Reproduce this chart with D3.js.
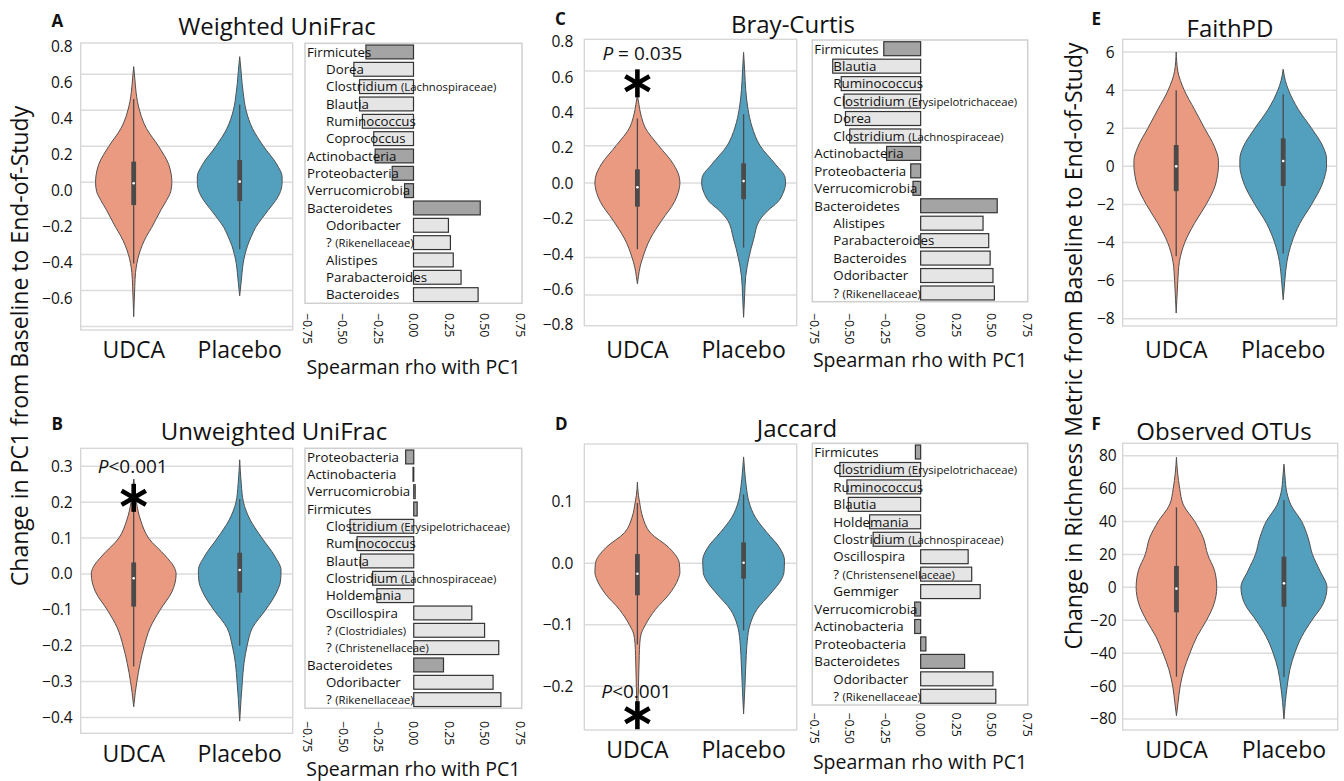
<!DOCTYPE html>
<html><head><meta charset="utf-8">
<script src="https://cdn.jsdelivr.net/npm/d3@7"></script>
<style>body{margin:0;background:#fff} svg{display:block} text{font-family:'Open Sans',sans-serif;fill:#111}</style>
</head><body><svg id="c" width="1344" height="781"></svg>
<script>
// ---------------- DATA ----------------
const categories = ["UDCA", "Placebo"];

// violin outlines: [value, half-width as fraction of half band]
const wUniUDCA = [[0.643,0],[0.58,0.02],[0.5,0.045],[0.45,0.07],[0.4,0.11],[0.33,0.19],[0.3,0.24],[0.2,0.47],[0.1,0.66],[0.04,0.71],[0,0.72],[-0.05,0.7],[-0.1,0.62],[-0.15,0.52],[-0.2,0.43],[-0.25,0.34],[-0.3,0.24],[-0.35,0.16],[-0.4,0.1],[-0.45,0.06],[-0.5,0.035],[-0.58,0.02],[-0.66,0.01],[-0.746,0]];
const wUniPlacebo = [[0.698,0],[0.62,0.025],[0.55,0.045],[0.5,0.065],[0.4,0.12],[0.3,0.24],[0.2,0.45],[0.1,0.7],[0.03,0.8],[0,0.8],[-0.05,0.77],[-0.1,0.68],[-0.15,0.55],[-0.2,0.42],[-0.25,0.3],[-0.3,0.22],[-0.35,0.15],[-0.4,0.1],[-0.45,0.065],[-0.5,0.045],[-0.56,0.025],[-0.63,0]];
const uUniUDCA = [[0.264,0],[0.22,0.03],[0.2,0.05],[0.15,0.13],[0.1,0.28],[0.05,0.6],[0.02,0.76],[0,0.8],[-0.025,0.78],[-0.05,0.72],[-0.1,0.5],[-0.15,0.31],[-0.2,0.2],[-0.25,0.12],[-0.3,0.06],[-0.33,0.03],[-0.37,0]];
const uUniPlacebo = [[0.318,0],[0.25,0.03],[0.2,0.07],[0.15,0.2],[0.1,0.42],[0.05,0.66],[0.01,0.78],[-0.02,0.77],[-0.05,0.7],[-0.1,0.49],[-0.15,0.24],[-0.2,0.14],[-0.25,0.08],[-0.3,0.05],[-0.35,0.025],[-0.41,0]];
const brayUDCA = [[0.47,0],[0.42,0.03],[0.4,0.04],[0.35,0.08],[0.3,0.14],[0.2,0.4],[0.1,0.68],[0.03,0.79],[0,0.8],[-0.05,0.77],[-0.1,0.7],[-0.2,0.46],[-0.3,0.24],[-0.4,0.1],[-0.45,0.05],[-0.5,0.02],[-0.54,0]];
const brayPlacebo = [[0.7,0],[0.6,0.02],[0.5,0.04],[0.4,0.08],[0.3,0.16],[0.2,0.31],[0.1,0.6],[0.03,0.78],[0,0.79],[-0.05,0.75],[-0.1,0.65],[-0.15,0.45],[-0.2,0.3],[-0.3,0.19],[-0.4,0.1],[-0.5,0.04],[-0.6,0.02],[-0.72,0]];
const jacUDCA = [[0.132,0],[0.11,0.02],[0.1,0.04],[0.075,0.1],[0.05,0.24],[0.025,0.6],[0,0.79],[-0.015,0.8],[-0.025,0.77],[-0.05,0.6],[-0.075,0.34],[-0.1,0.15],[-0.115,0.07],[-0.13,0.045],[-0.15,0.035],[-0.2,0.02],[-0.26,0]];
const jacPlacebo = [[0.173,0],[0.15,0.02],[0.125,0.05],[0.1,0.1],[0.075,0.22],[0.05,0.44],[0.025,0.68],[0.005,0.77],[-0.015,0.76],[-0.025,0.72],[-0.05,0.5],[-0.075,0.25],[-0.1,0.12],[-0.125,0.07],[-0.15,0.05],[-0.2,0.025],[-0.245,0]];
const faithUDCA = [[6,0],[5,0.03],[4,0.15],[3,0.34],[2,0.53],[1,0.72],[0.3,0.79],[0,0.79],[-0.5,0.77],[-1,0.73],[-2,0.56],[-3,0.34],[-4,0.16],[-5,0.06],[-6,0.03],[-7,0.012],[-7.7,0]];
const faithPlacebo = [[5.1,0],[4.5,0.04],[4,0.1],[3,0.28],[2,0.53],[1,0.75],[0.4,0.81],[0,0.81],[-0.5,0.78],[-1,0.72],[-2,0.53],[-3,0.31],[-4,0.16],[-5,0.07],[-6,0.03],[-7,0]];
const otuUDCA = [[79,0],[70,0.02],[60,0.06],[50,0.13],[40,0.34],[30,0.5],[20,0.58],[10,0.71],[0,0.75],[-10,0.7],[-20,0.56],[-30,0.38],[-40,0.25],[-50,0.14],[-60,0.07],[-70,0.03],[-78,0]];
const otuPlacebo = [[74.8,0],[65,0.025],[60,0.04],[50,0.13],[40,0.33],[30,0.45],[20,0.53],[10,0.67],[0,0.8],[-10,0.73],[-20,0.52],[-30,0.33],[-40,0.2],[-50,0.11],[-60,0.06],[-70,0.025],[-80,0]];

// box stats: [low whisker, q1, median, q3, high whisker]
const wUniBox = [[-0.45,-0.126,-0.005,0.115,0.463],[-0.372,-0.104,0.004,0.124,0.433]];
const uUniBox = [[-0.258,-0.091,-0.012,0.032,0.264],[-0.2,-0.052,0.011,0.059,0.209]];
const brayBox = [[-0.355,-0.127,-0.023,0.073,0.346],[-0.346,-0.087,0.01,0.105,0.368]];
const jacBox = [[-0.132,-0.052,-0.017,0.015,0.098],[-0.109,-0.025,0.001,0.034,0.112]];
const faithBox = [[-4.72,-1.3,0,1.12,4.0],[-4.58,-1.03,0.28,1.47,3.79]];
const otuBox = [[-54.3,-15.2,-0.8,13,48.6],[-54.7,-11.8,2.4,18.6,53]];

// y ticks
const wUniTicks = [-0.8,-0.6,-0.4,-0.2,0,0.2,0.4,0.6,0.8];
const wUniLabels = [-0.6,-0.4,-0.2,0,0.2,0.4,0.6,0.8];
const uUniTicks = [-0.4,-0.3,-0.2,-0.1,0,0.1,0.2,0.3];
const brayTicks = [-0.8,-0.6,-0.4,-0.2,0,0.2,0.4,0.6,0.8];
const jacTicks = [-0.2,-0.1,0,0.1];
const faithTicks = [-8,-6,-4,-2,0,2,4,6];
const otuTicks = [-80,-60,-40,-20,0,20,40,60,80];

// bar charts (level 0 = phylum, 1 = genus)
const rhoTicks = [-0.75,-0.5,-0.25,0,0.25,0.5,0.75];
const wUniTaxa = ["Firmicutes","Dorea","Clostridium (Lachnospiraceae)","Blautia","Ruminococcus","Coprococcus","Actinobacteria","Proteobacteria","Verrucomicrobia","Bacteroidetes","Odoribacter","? (Rikenellaceae)","Alistipes","Parabacteroides","Bacteroides"];
const wUniLevel = [0,1,1,1,1,1,0,0,0,0,1,1,1,1,1];
const wUniRho = [-0.335,-0.42,-0.38,-0.38,-0.36,-0.28,-0.27,-0.15,-0.063,0.47,0.246,0.26,0.28,0.335,0.455];
const uUniTaxa = ["Proteobacteria","Actinobacteria","Verrucomicrobia","Firmicutes","Clostridium (Erysipelotrichaceae)","Ruminococcus","Blautia","Clostridium (Lachnospiraceae)","Holdemania","Oscillospira","? (Clostridiales)","? (Christenellaceae)","Bacteroidetes","Odoribacter","? (Rikenellaceae)"];
const uUniLevel = [0,0,0,0,1,1,1,1,1,1,1,1,0,1,1];
const uUniRho = [-0.057,-0.005,0.01,0.024,-0.45,-0.40,-0.375,-0.29,-0.26,0.41,0.50,0.60,0.21,0.56,0.615];
const brayTaxa = ["Firmicutes","Blautia","Ruminococcus","Clostridium (Erysipelotrichaceae)","Dorea","Clostridium (Lachnospiraceae)","Actinobacteria","Proteobacteria","Verrucomicrobia","Bacteroidetes","Alistipes","Parabacteroides","Bacteroides","Odoribacter","? (Rikenellaceae)"];
const brayLevel = [0,1,1,1,1,1,0,0,0,0,1,1,1,1,1];
const brayRho = [-0.26,-0.62,-0.56,-0.54,-0.53,-0.50,-0.24,-0.07,-0.054,0.54,0.44,0.48,0.49,0.51,0.52];
const jacTaxa = ["Firmicutes","Clostridium (Erysipelotrichaceae)","Ruminococcus","Blautia","Holdemania","Clostridium (Lachnospiraceae)","Oscillospira","? (Christensenellaceae)","Gemmiger","Verrucomicrobia","Actinobacteria","Proteobacteria","Bacteroidetes","Odoribacter","? (Rikenellaceae)"];
const jacLevel = [0,1,1,1,1,1,1,1,1,0,0,0,0,1,1];
const jacRho = [-0.037,-0.57,-0.52,-0.51,-0.36,-0.335,0.335,0.36,0.42,-0.042,-0.042,0.037,0.31,0.51,0.53];

// significance annotations
const annotText = ["<0.001", " = 0.035", "<0.001"];
const annotTextVal = [0.281, 0.659, -0.219];
const annotStarVal = [0.212, 0.534, -0.247];

// ---------------- DRAW ----------------
const svg = d3.select("#c");
const COLORS = ["#ea9a81", "#539fbe"];

function violinPanel(cfg) {
  const y = d3.scaleLinear().domain(cfg.dom).range([cfg.y1, cfg.y0]);
  const ly = cfg.labelRange ? d3.scaleLinear().domain(cfg.labelDom).range(cfg.labelRange) : y;
  const x = d3.scaleBand().domain(categories).range([cfg.x0, cfg.x1]);
  const hb = x.bandwidth() / 2;
  const g = svg.append("g");
  g.selectAll(null).data(cfg.ticks.filter(t => y(t) > cfg.y0 + 1 && y(t) < cfg.y1 - 1)).join("line")
    .attr("x1", cfg.x0).attr("x2", cfg.x1).attr("y1", d => y(d)).attr("y2", d => y(d))
    .attr("stroke", "#dcdcdc").attr("stroke-width", 1.5);
  g.append("rect").attr("x", cfg.x0).attr("y", cfg.y0).attr("width", cfg.x1 - cfg.x0).attr("height", cfg.y1 - cfg.y0)
    .attr("fill", "none").attr("stroke", "#d4d4d4").attr("stroke-width", 1.3);
  const ax = g.append("g").attr("transform", `translate(${cfg.x0 - 8 + (cfg.labelShift||0)},${cfg.labelDy||0})`)
    .call(d3.axisLeft(ly).tickValues(cfg.labels).tickSize(0).tickPadding(0).tickFormat(d3.format(cfg.fmt)));
  ax.select(".domain").remove();
  ax.selectAll("text").attr("font-size", 15.5).attr("font-family", "'Open Sans',sans-serif").attr("fill", "#222");
  cfg.violins.forEach((pts, i) => {
    const cx = x(categories[i]) + hb;
    const area = d3.area().curve(d3.curveMonotoneY)
      .y(d => y(d[0])).x0(d => cx - d[1] * hb).x1(d => cx + d[1] * hb);
    g.append("path").attr("d", area(pts)).attr("fill", COLORS[i]).attr("stroke", "#505050").attr("stroke-width", 1);
    const b = cfg.box[i];
    g.append("line").attr("x1", cx).attr("x2", cx).attr("y1", y(b[0])).attr("y2", y(b[4]))
      .attr("stroke", "#4a4a4a").attr("stroke-width", 1.3);
    g.append("rect").attr("x", cx - 2.4).attr("width", 4.8).attr("y", y(b[3])).attr("height", y(b[1]) - y(b[3]))
      .attr("fill", "#4a4a4a");
    g.append("circle").attr("cx", cx).attr("cy", y(b[2])).attr("r", 1.3).attr("fill", "#fff");
    g.append("text").attr("x", cx).attr("y", cfg.catY).attr("text-anchor", "middle").attr("font-size", 23).text(categories[i]);
  });
  g.append("text").attr("x", cfg.titleX).attr("y", cfg.titleY).attr("text-anchor", "middle").attr("font-size", 24).text(cfg.title);
  g.append("text").attr("x", cfg.letterX).attr("y", cfg.letterY).attr("font-size", 17).attr("font-weight", "bold").text(cfg.letter);
  return {x, y, hb, g};
}

function drawStar(g, cx, cy, r) {
  [90, 30, 150].forEach(a => {
    const rad = a * Math.PI / 180;
    g.append("line").attr("x1", cx - r * Math.cos(rad)).attr("y1", cy - r * Math.sin(rad))
      .attr("x2", cx + r * Math.cos(rad)).attr("y2", cy + r * Math.sin(rad))
      .attr("stroke", "#000").attr("stroke-width", 4.6);
  });
}

function annotate(p, k, dx) {
  const cx = p.x(categories[0]) + p.hb;
  const t = p.g.append("text").attr("x", cx + dx).attr("y", p.y(annotTextVal[k])).attr("text-anchor", "middle").attr("font-size", 19);
  t.append("tspan").attr("font-style", "italic").text("P");
  t.append("tspan").text(annotText[k]);
  drawStar(p.g, cx, p.y(annotStarVal[k]), 14);
}

function barPanel(cfg, taxa, level, rho) {
  const x = d3.scaleLinear().domain([-0.75, 0.75]).range([cfg.r0, cfg.r1]);
  const y = d3.scaleBand().domain(d3.range(taxa.length)).range([cfg.y0, cfg.y1]).paddingInner(0.2).paddingOuter(0.1);
  const g = svg.append("g");
  g.append("rect").attr("x", cfg.x0).attr("y", cfg.y0).attr("width", cfg.x1 - cfg.x0).attr("height", cfg.y1 - cfg.y0)
    .attr("fill", "none").attr("stroke", "#cfcfcf").attr("stroke-width", 1.5);
  g.selectAll(null).data(rho).join("rect")
    .attr("x", d => x(Math.min(0, d))).attr("width", d => Math.abs(x(d) - x(0)))
    .attr("y", (d, i) => y(i)).attr("height", y.bandwidth())
    .attr("fill", (d, i) => level[i] ? "#e5e5e5" : "#a4a4a4")
    .attr("stroke", "#333").attr("stroke-width", 1.2);
  taxa.forEach((name, i) => {
    const t = g.append("text").attr("x", cfg.x0 + (level[i] ? 21 : 2)).attr("y", y(i) + y.bandwidth() / 2)
      .attr("dy", "0.36em").attr("font-size", 13.3);
    const k = name.indexOf(" (");
    if (k >= 0) {
      t.append("tspan").text(name.slice(0, k + 1));
      t.append("tspan").attr("font-size", 11.3).text(name.slice(k + 1));
    } else t.text(name);
  });
  g.selectAll(null).data(rhoTicks).join("text")
    .attr("transform", d => `translate(${x(d)},${cfg.tickY}) rotate(90)`)
    .attr("dy", "0.35em").attr("font-size", 12.3).attr("fill", "#222")
    .text(d => d3.format(".2f")(d));
  g.append("text").attr("x", (cfg.x0 + cfg.x1) / 2).attr("y", cfg.titleY).attr("text-anchor", "middle")
    .attr("font-size", 19.5).text("Spearman rho with PC1");
}

const pA = violinPanel({x0: 80.7, x1: 292.7, y0: 43, y1: 330, dom: [-0.82, 0.774], ticks: wUniTicks, labels: wUniLabels,
  labelDy: 8, fmt: ".1f", violins: [wUniUDCA, wUniPlacebo], box: wUniBox, catY: 358,
  title: "Weighted UniFrac", titleX: 277, titleY: 35, letter: "A", letterX: 51.5, letterY: 26.7});
const pB = violinPanel({x0: 80.7, x1: 292.7, y0: 448.3, y1: 733.3, dom: [-0.444, 0.35], ticks: uUniTicks, labels: uUniTicks,
  fmt: ".1f", violins: [uUniUDCA, uUniPlacebo], box: uUniBox, catY: 762,
  title: "Unweighted UniFrac", titleX: 274, titleY: 440, letter: "B", letterX: 51.5, letterY: 430});
const pC = violinPanel({x0: 584.3, x1: 796.7, y0: 39.3, y1: 325.7, dom: [-0.765, 0.77], ticks: brayTicks, labels: brayTicks,
  labelDom: [-0.8, 0.8], labelRange: [325, 41.7], labelShift: -3,
  fmt: ".1f", violins: [brayUDCA, brayPlacebo], box: brayBox, catY: 358,
  title: "Bray-Curtis", titleX: 793, titleY: 33, letter: "C", letterX: 555, letterY: 25});
const pD = violinPanel({x0: 584.3, x1: 796.7, y0: 444, y1: 730, dom: [-0.271, 0.194], ticks: jacTicks, labels: jacTicks,
  labelShift: -3, fmt: ".1f", violins: [jacUDCA, jacPlacebo], box: jacBox, catY: 758,
  title: "Jaccard", titleX: 797, titleY: 437, letter: "D", letterX: 555, letterY: 430});
const pE = violinPanel({x0: 1122.7, x1: 1336.7, y0: 39.3, y1: 326, dom: [-8.38, 6.67], ticks: faithTicks, labels: faithTicks,
  fmt: "d", violins: [faithUDCA, faithPlacebo], box: faithBox, catY: 358,
  title: "FaithPD", titleX: 1230, titleY: 37, letter: "E", letterX: 1091.5, letterY: 25});
const pF = violinPanel({x0: 1122.7, x1: 1337.7, y0: 443.3, y1: 730, dom: [-86.7, 87.5], ticks: otuTicks, labels: otuTicks,
  labelShift: 2, fmt: "d", violins: [otuUDCA, otuPlacebo], box: otuBox, catY: 758,
  title: "Observed OTUs", titleX: 1224, titleY: 440, letter: "F", letterX: 1091.5, letterY: 430});

annotate(pB, 0, -1);
annotate(pC, 1, 5);
annotate(pD, 2, -1);

barPanel({x0: 305, x1: 522, y0: 43.3, y1: 303.3, r0: 307, r1: 520, tickY: 313, titleY: 374}, wUniTaxa, wUniLevel, wUniRho);
barPanel({x0: 305, x1: 521.7, y0: 448.3, y1: 708.3, r0: 307.5, r1: 520, tickY: 721, titleY: 776}, uUniTaxa, uUniLevel, uUniRho);
barPanel({x0: 812.3, x1: 1027.7, y0: 40, y1: 301.7, r0: 814.3, r1: 1027, tickY: 313, titleY: 367}, brayTaxa, brayLevel, brayRho);
barPanel({x0: 812.3, x1: 1027.7, y0: 443.3, y1: 705, r0: 814.3, r1: 1027, tickY: 712.5, titleY: 769}, jacTaxa, jacLevel, jacRho);

svg.append("text").attr("transform", "translate(28,346) rotate(-90)").attr("text-anchor", "middle").attr("font-size", 23)
  .text("Change in PC1 from Baseline to End-of-Study");
svg.append("text").attr("transform", "translate(1082,346) rotate(-90)").attr("text-anchor", "middle").attr("font-size", 23)
  .text("Change in Richness Metric from Baseline to End-of-Study");
</script></body></html>
